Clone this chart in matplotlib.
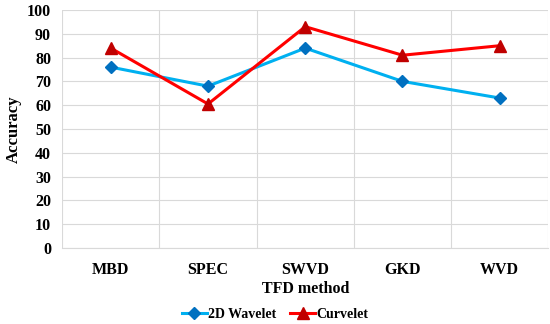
import numpy as np
import matplotlib.pyplot as plt

methods = ['MBD', 'SPEC', 'SWVD', 'GKD', 'WVD']
wavelet = [76, 68, 84, 70, 63]
curvelet = [84, 60.5, 93, 81, 85]
yticks = list(range(0, 101, 10))

plt.rcParams['font.family'] = ['Liberation Serif', 'DejaVu Serif']
plt.rcParams['font.weight'] = 'bold'

fig = plt.figure(figsize=(5.5, 3.24), dpi=100)
ax = fig.add_axes([0.113, 0.235, 0.884, 0.734])

x = np.arange(len(methods))
ax.plot(x, wavelet, color='#00B0F0', lw=2.2, marker='D', ms=6.5,
        mfc='#0070C0', mec='#0070C0', label='2D Wavelet', zorder=3)
ax.plot(x, curvelet, color='#FF0000', lw=2.2, marker='^', ms=8,
        mfc='#C00000', mec='#C00000', label='Curvelet', zorder=3)

ax.set_xlim(-0.5, len(methods) - 0.5)
ax.set_ylim(0, 100)
ax.set_yticks(yticks)
ax.set_xticks(x)
ax.set_xticklabels(methods, fontsize=11.5, fontweight='bold')
ax.tick_params(axis='y', labelsize=11.5, length=0, pad=8)
ax.tick_params(axis='x', length=0, pad=10)
for v in yticks:
    ax.axhline(v, color='#D9D9D9', lw=0.8, zorder=0)
for b in np.arange(-0.5, len(methods), 1.0):
    ax.axvline(b, color='#D9D9D9', lw=0.8, zorder=0)
for s in ['top', 'right', 'left']:
    ax.spines[s].set_visible(False)
ax.spines['bottom'].set_color('#D9D9D9')

ax.set_ylabel('Accuracy', fontsize=12, fontweight='bold', labelpad=4)
ax.set_xlabel('TFD method', fontsize=11.5, fontweight='bold', labelpad=2)

fig.legend(loc='lower center', bbox_to_anchor=(0.5, -0.03), ncol=2, frameon=False,
           handlelength=1.8, columnspacing=1.0, handletextpad=0.1,
           prop={'weight': 'bold', 'size': 10})

fig.savefig('out.png', dpi=100)
